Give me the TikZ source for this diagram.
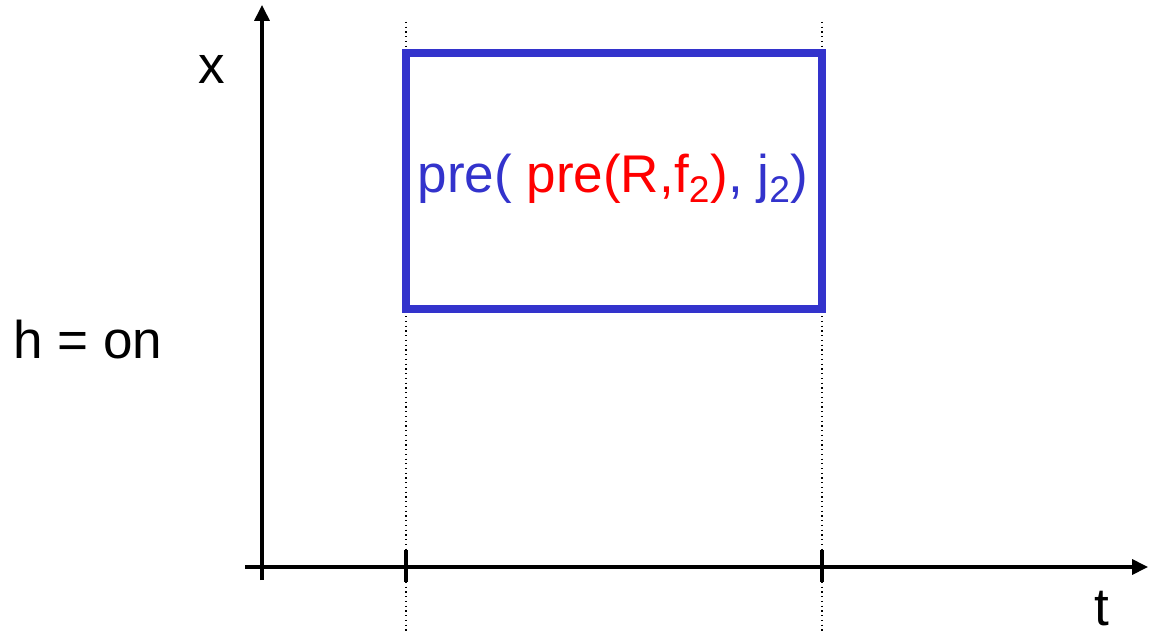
\documentclass[tikz,border=0pt]{standalone}
\usepackage{fontspec}
\setmainfont{Liberation Sans}
\usetikzlibrary{calc}
\usetikzlibrary{arrows.meta}
\tikzset{>={Triangle[length=9pt,width=8.5pt]}}
\definecolor{preblue}{RGB}{51,51,204}
\definecolor{prered}{RGB}{255,0,0}
\tikzset{
  axis/.style={line width=1.9pt},
  tick/.style={line width=1.9pt},
  guide/.style={dotted, line width=0.7pt},
  setbox/.style={draw=preblue, line width=4pt},
  lbl/.style={font=\fontsize{30.2}{36}\selectfont, inner sep=0pt}
}

\begin{document}
\begin{tikzpicture}[scale=1]
  \useasboundingbox (0,0) rectangle (22.98,12.66);

  % axes
  \coordinate (O) at (5.24,1.32);
  \coordinate (Y0) at (5.24,1.06);
  \coordinate (Y1) at (5.24,12.56);
  \coordinate (X0) at (4.9,1.32);
  \coordinate (X1) at (22.96,1.32);

  % interval ends
  \coordinate (A) at (8.12,1.32);
  \coordinate (B) at (16.44,1.32);
  \coordinate (A_1) at (8.12,12.22);
  \coordinate (B_1) at (16.44,12.22);
  \coordinate (A_2) at (8.12,0);
  \coordinate (B_2) at (16.44,0);

  % box corners
  \coordinate (P) at (8.12,6.48);
  \coordinate (Q) at (16.44,11.6);

  % dotted guides
  \draw[guide] (A_1) -- (A_2);
  \draw[guide] (B_1) -- (B_2);

  \draw[axis,->] (Y0) -- (Y1);
  \draw[axis,->] (X0) -- (X1);

  % ticks
  \draw[tick] ($(A)+(0,0.34)$) -- ($(A)+(0,-0.3)$);
  \draw[tick] ($(B)+(0,0.34)$) -- ($(B)+(0,-0.3)$);

  % set
  \draw[setbox] (P) rectangle (Q);
  \node[lbl, anchor=base, text=preblue] (pre) at (12.26,8.82)
    {pre( \textcolor{prered}{pre(R,f\textsubscript{2})}, j\textsubscript{2})};

  % labels
  \node[lbl] (x) at (4.24,11.28) {x};
  \node[lbl] (h) at (1.76,5.86) {h = on};
  \node[lbl] (t) at (22.04,0.48) {t};
\end{tikzpicture}
\end{document}
